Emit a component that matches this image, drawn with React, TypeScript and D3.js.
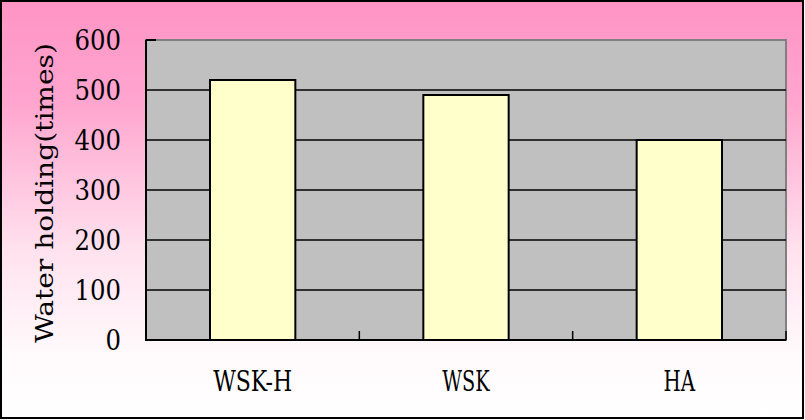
import React from "react";
import * as d3 from "d3";

const categories = ["WSK-H", "WSK", "HA"];
const values = [520, 490, 400];
const yTicks = [0, 100, 200, 300, 400, 500, 600];
const yTitle = "Water holding(times)";

export default function App() {
  const W = 805, H = 420;
  const left = 146, right = 786, top = 40, bottom = 340;
  const x = d3.scaleBand<string>().domain(categories).range([left, right]).paddingInner(0).paddingOuter(0);
  const y = d3.scaleLinear().domain([0, 600]).range([bottom, top]);
  const bw = x.bandwidth() / 2.5;
  const font = "DejaVu Serif, Liberation Serif, serif";
  const textStyle = { fontStretch: "condensed" as const, fontWeight: 400 };
  return (
    <div style={{ position: "fixed", left: 0, top: 0 }}>
      <svg width={W} height={H} style={{ display: "block" }}>
        <defs>
          <linearGradient id="bg" x1="0" y1="0" x2="0" y2="1">
            <stop offset="0" stopColor="#FF94C4" />
            <stop offset="0.25" stopColor="#FFA6CF" />
            <stop offset="0.6" stopColor="#FFE2EE" />
            <stop offset="0.85" stopColor="#FFFAFC" />
            <stop offset="1" stopColor="#FFFFFF" />
          </linearGradient>
        </defs>
        <rect x={1} y={1} width={W - 3} height={H - 3} fill="url(#bg)" stroke="#000" strokeWidth={2} />
        <rect x={left} y={top} width={right - left} height={bottom - top} fill="#C0C0C0" stroke="#808080" strokeWidth={2} />
        {yTicks.filter(t => t > 0 && t < 600).map(t => (
          <line key={t} x1={left} x2={right} y1={y(t)} y2={y(t)} stroke="#000" strokeWidth={1.5} />
        ))}
        <line x1={left} x2={left + 10} y1={y(600)} y2={y(600)} stroke="#000" strokeWidth={2} />
        {categories.map((c, i) => {
          const cx = (x(c) as number) + x.bandwidth() / 2;
          return (
            <rect key={c} x={cx - bw / 2} y={y(values[i])} width={bw} height={bottom - y(values[i])}
              fill="#FFFFCC" stroke="#000" strokeWidth={2} />
          );
        })}
        <line x1={left} x2={left} y1={top} y2={bottom} stroke="#000" strokeWidth={2} />
        <line x1={left - 1} x2={right} y1={bottom} y2={bottom} stroke="#000" strokeWidth={2} />
        {[...categories.map(c => x(c) as number), right].map((tx, i) => (
          <line key={i} x1={tx} x2={tx} y1={bottom} y2={bottom - 9} stroke="#000" strokeWidth={1.5} />
        ))}
        {yTicks.map(t => (
          <text key={t} x={121} y={y(t) + 10} textAnchor="end" fontFamily={font} fontSize={27} style={textStyle}
            textLength={String(t).length * 15.5} lengthAdjust="spacingAndGlyphs" fill="#000">{t}</text>
        ))}
        {categories.map(c => {
          const cx = (x(c) as number) + x.bandwidth() / 2;
          return (
            <text key={c} x={cx} y={391} textAnchor="middle" fontFamily={font} fontSize={27} style={textStyle}
              textLength={c.length * 15.8} lengthAdjust="spacingAndGlyphs" fill="#000">{c}</text>
          );
        })}
        <text transform={`translate(53,193) rotate(-90)`} textAnchor="middle" fontFamily={font} fontSize={25} style={textStyle}
          textLength={300} lengthAdjust="spacingAndGlyphs" fill="#000">{yTitle}</text>
      </svg>
    </div>
  );
}
